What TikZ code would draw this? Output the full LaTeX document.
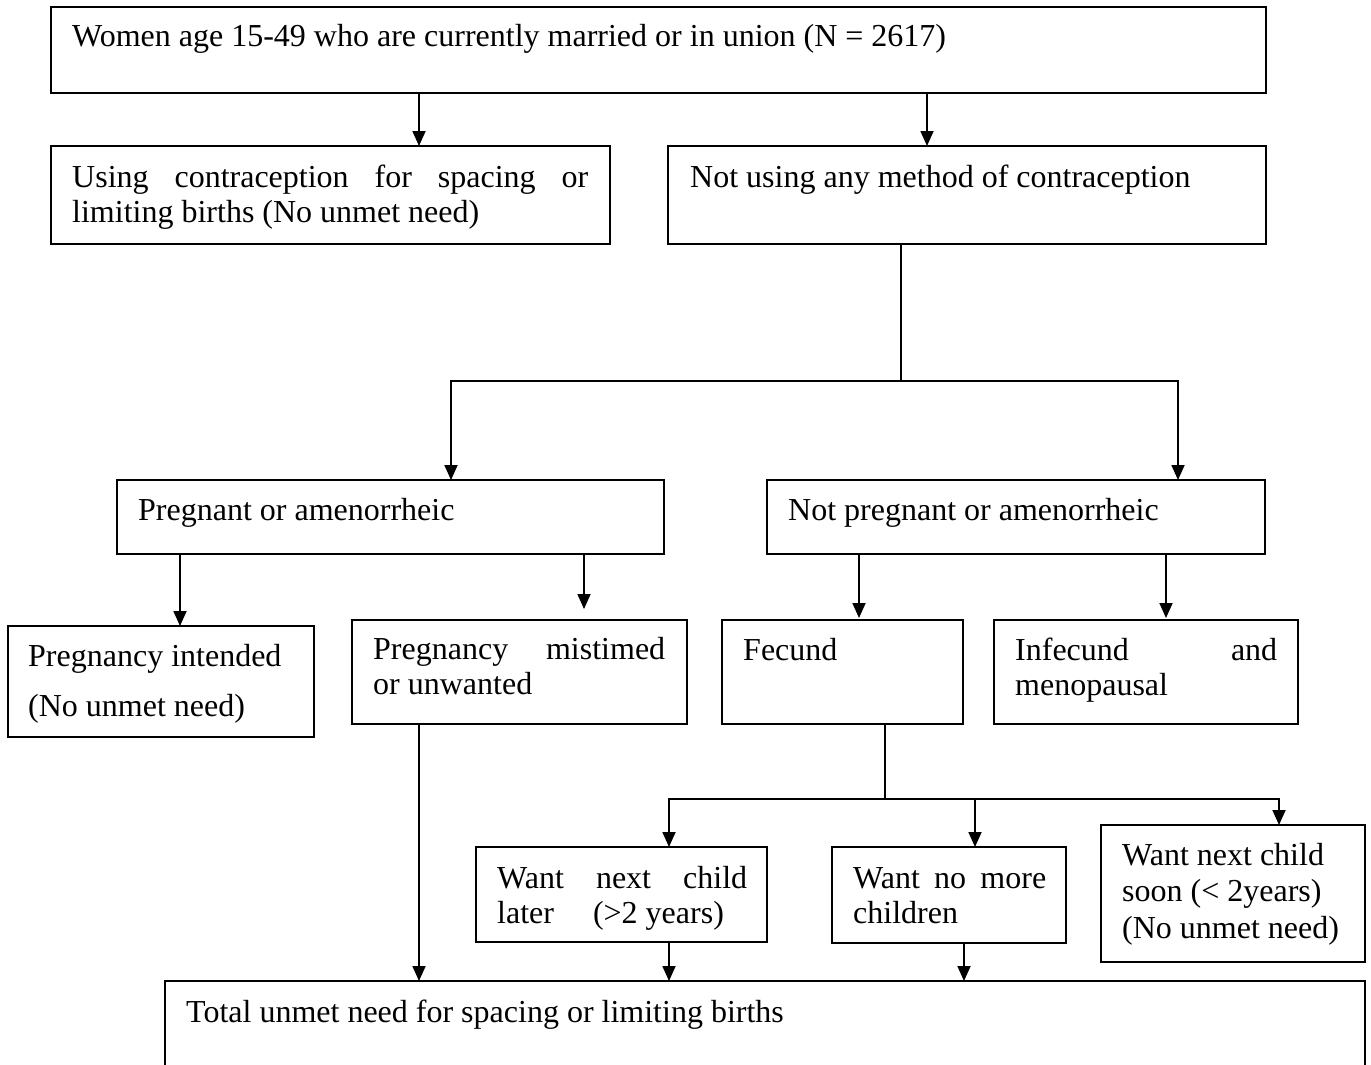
\documentclass[tikz,border=0pt]{standalone}
\usepackage{fontspec}
\setmainfont{Liberation Serif}
\usetikzlibrary{arrows.meta,calc}
\newcommand\flowbox[5]{\node[fbox, minimum width={(#4-#2)*1pt}, minimum height={(#5-#3)*1pt}] (#1) at ({(#2+#4)/2},{(#3+#5)/2}) {};}
\newcommand\jl[2]{\makebox[#1pt][s]{#2}}
\begin{document}
\begin{tikzpicture}[x=1pt,y=-1pt,
  fbox/.style={draw, line width=1.8pt, inner sep=0pt, outer sep=0pt},
  txt/.style={anchor=base west, inner sep=0pt, font=\fontsize{32}{35}\selectfont},
  conn/.style={line width=1.8pt},
  arr/.style={line width=1.8pt, -{Triangle[length=15pt,width=13pt]}}]
\useasboundingbox (0,0) rectangle (1371,1065);
\clip (0,0) rectangle (1371,1065);
% x positions
\foreach \xx in {180,419,451,584,669,885,901,927,859,964,975,1166,1178,1279}
  \coordinate (x\xx) at (\xx,0);
% boxes
\flowbox{top}{51}{7}{1266}{93}
\flowbox{use}{51}{146}{610}{244}
\flowbox{notuse}{668}{146}{1266}{244}
\flowbox{preg}{117}{480}{664}{554}
\flowbox{notpreg}{767}{480}{1265}{554}
\flowbox{intended}{8}{626}{314}{737}
\flowbox{mistimed}{352}{620}{687}{724}
\flowbox{fecund}{722}{620}{963}{724}
\flowbox{infecund}{994}{620}{1298}{724}
\flowbox{later}{476}{847}{767}{942}
\flowbox{nomore}{832}{847}{1066}{943}
\flowbox{soon}{1101}{825}{1365}{962}
\flowbox{total}{165}{981}{1365}{1110}
% texts
\node[txt] (top-t) at (72,47) {Women age 15-49 who are currently married or in union (N = 2617)};
\node[txt] (use-t) at (72,187) {\begin{tabular}[t]{@{}l@{}}\jl{516}{Using contraception for spacing or}\\ limiting births (No unmet need)\end{tabular}};
\node[txt] (notuse-t) at (690,187) {Not using any method of contraception};
\node[txt] (preg-t) at (138,520) {Pregnant or amenorrheic};
\node[txt] (notpreg-t) at (788,520) {Not pregnant or amenorrheic};
\node[txt] (intended-t) at (28,666) {\begin{tabular}[t]{@{}l@{}}Pregnancy intended\\[15pt] (No unmet need)\end{tabular}};
\node[txt] (mistimed-t) at (373,659) {\begin{tabular}[t]{@{}l@{}}\jl{292}{Pregnancy mistimed}\\ or unwanted\end{tabular}};
\node[txt] (fecund-t) at (743,660) {Fecund};
\node[txt] (infecund-t) at (1015,660) {\begin{tabular}[t]{@{}l@{}}\jl{262}{Infecund and}\\ menopausal\end{tabular}};
\node[txt] (later-t) at (497,888) {\begin{tabular}[t]{@{}l@{}}\jl{250}{Want next child}\\ later\hspace{39pt}(>2 years)\end{tabular}};
\node[txt] (nomore-t) at (853,888) {\begin{tabular}[t]{@{}l@{}}\jl{193}{Want no more}\\ children\end{tabular}};
\node[txt] (soon-t) at (1122,865) {\begin{tabular}[t]{@{}l@{}}Want next child\\[1.5pt] soon (< 2years)\\[1.5pt] (No unmet need)\end{tabular}};
\node[txt] (total-t) at (186,1022) {Total unmet need for spacing or limiting births};
% connectors
\draw[arr] (top.south -| x419) -- (use.north -| x419);
\draw[arr] (top.south -| x927) -- (notuse.north -| x927);
\coordinate (j1) at (901,381);
\draw[conn] (notuse.south -| x901) -- (j1);
\draw[arr] (j1) -| (preg.north -| x451);
\draw[arr] (j1) -| (notpreg.north -| x1178);
\draw[arr] (preg.south -| x180) -- (intended.north -| x180);
\draw[arr] (preg.south -| x584) -- ($(mistimed.north -| x584)+(0,-11)$);
\draw[arr] (notpreg.south -| x859) -- ($(fecund.north -| x859)+(0,-2)$);
\draw[arr] (notpreg.south -| x1166) -- ($(infecund.north -| x1166)+(0,-2)$);
\coordinate (j2) at (885,799);
\draw[conn] (fecund.south -| x885) -- (j2);
\draw[arr] (j2) -| (later.north -| x669);
\draw[arr] (j2) -| (soon.north -| x1279);
\draw[arr] (j2 -| x975) -- (nomore.north -| x975);
\draw[arr] (mistimed.south -| x419) -- (total.north -| x419);
\draw[arr] (later.south -| x669) -- (total.north -| x669);
\draw[arr] (nomore.south -| x964) -- (total.north -| x964);
\end{tikzpicture}
\end{document}
